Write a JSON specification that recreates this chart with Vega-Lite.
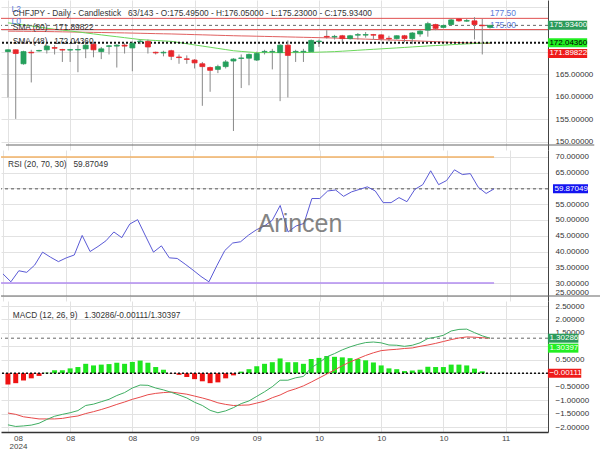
{
"$schema": "https://vega.github.io/schema/vega-lite/v6.json",
"padding": 0,
"autosize": {"type": "pad"},
"spacing": 0,
"bounds": "flush",
"background": "white",
"config": {"view": {"stroke": null}, "font": "Liberation Sans", "text": {"font": "Liberation Sans"}, "axis": {"labelOverlap": false, "gridColor": "#e2e2e2"}},
"datasets": {
"candles": [
{"i":0,"o":170.07,"h":170.55,"l":159.86,"c":170.48,"sma48":176.50,"sma80":174.65,"rsi":32.9,"hist":-0.42,"macd":-1.92,"signal":-1.48},
{"i":1,"o":170.48,"h":170.55,"l":155.06,"c":169.65,"sma48":176.27,"sma80":174.63,"rsi":30.4,"hist":-0.37,"macd":-1.98,"signal":-1.53},
{"i":2,"o":167.36,"h":170.27,"l":167.15,"c":170.07,"sma48":176.03,"sma80":174.61,"rsi":33.9,"hist":-0.27,"macd":-1.96,"signal":-1.62},
{"i":3,"o":169.93,"h":170.48,"l":163.19,"c":169.80,"sma48":175.80,"sma80":174.59,"rsi":33.4,"hist":-0.19,"macd":-1.93,"signal":-1.66},
{"i":4,"o":170.22,"h":170.48,"l":170.07,"c":170.33,"sma48":175.55,"sma80":174.57,"rsi":35.7,"hist":-0.10,"macd":-1.86,"signal":-1.70},
{"i":5,"o":170.48,"h":171.52,"l":169.65,"c":171.31,"sma48":175.30,"sma80":174.55,"rsi":39.8,"hist":0.02,"macd":-1.72,"signal":-1.70},
{"i":6,"o":170.97,"h":171.52,"l":169.44,"c":170.83,"sma48":175.06,"sma80":174.52,"rsi":38.2,"hist":0.11,"macd":-1.60,"signal":-1.70},
{"i":7,"o":170.55,"h":170.69,"l":167.77,"c":170.42,"sma48":174.88,"sma80":174.49,"rsi":36.8,"hist":0.11,"macd":-1.53,"signal":-1.68},
{"i":8,"o":170.42,"h":170.69,"l":167.77,"c":170.52,"sma48":174.68,"sma80":174.46,"rsi":38.0,"hist":0.18,"macd":-1.47,"signal":-1.63},
{"i":9,"o":170.45,"h":171.52,"l":165.48,"c":170.55,"sma48":174.47,"sma80":174.43,"rsi":38.9,"hist":0.23,"macd":-1.39,"signal":-1.59},
{"i":10,"o":170.69,"h":172.15,"l":168.61,"c":171.52,"sma48":174.25,"sma80":174.40,"rsi":45.1,"hist":0.35,"macd":-1.20,"signal":-1.50},
{"i":11,"o":171.73,"h":172.15,"l":168.81,"c":170.48,"sma48":174.03,"sma80":174.37,"rsi":40.0,"hist":0.29,"macd":-1.15,"signal":-1.43},
{"i":12,"o":170.07,"h":171.11,"l":168.40,"c":170.69,"sma48":173.81,"sma80":174.34,"rsi":41.6,"hist":0.32,"macd":-1.06,"signal":-1.35},
{"i":13,"o":171.25,"h":171.52,"l":169.44,"c":171.37,"sma48":173.60,"sma80":174.31,"rsi":43.4,"hist":0.34,"macd":-0.97,"signal":-1.26},
{"i":14,"o":171.31,"h":171.73,"l":166.52,"c":171.52,"sma48":173.40,"sma80":174.28,"rsi":46.2,"hist":0.39,"macd":-0.83,"signal":-1.16},
{"i":15,"o":171.52,"h":171.94,"l":169.65,"c":171.31,"sma48":173.19,"sma80":174.25,"rsi":44.4,"hist":0.35,"macd":-0.72,"signal":-1.07},
{"i":16,"o":170.90,"h":172.36,"l":165.69,"c":171.94,"sma48":172.98,"sma80":174.21,"rsi":48.7,"hist":0.42,"macd":-0.55,"signal":-0.97},
{"i":17,"o":172.30,"h":172.77,"l":171.73,"c":172.42,"sma48":172.77,"sma80":174.17,"rsi":50.1,"hist":0.47,"macd":-0.44,"signal":-0.89},
{"i":18,"o":172.36,"h":172.77,"l":169.65,"c":171.11,"sma48":172.66,"sma80":174.13,"rsi":44.9,"hist":0.39,"macd":-0.45,"signal":-0.80},
{"i":19,"o":169.92,"h":170.07,"l":169.44,"c":169.79,"sma48":172.56,"sma80":174.09,"rsi":39.8,"hist":0.23,"macd":-0.55,"signal":-0.75},
{"i":20,"o":169.79,"h":170.27,"l":169.02,"c":169.92,"sma48":172.46,"sma80":174.05,"rsi":41.8,"hist":0.13,"macd":-0.62,"signal":-0.72},
{"i":21,"o":170.27,"h":170.48,"l":168.19,"c":169.02,"sma48":172.36,"sma80":174.02,"rsi":38.0,"hist":-0.01,"macd":-0.71,"signal":-0.70},
{"i":22,"o":168.87,"h":169.44,"l":167.36,"c":168.75,"sma48":172.10,"sma80":173.97,"rsi":37.8,"hist":-0.06,"macd":-0.81,"signal":-0.74},
{"i":23,"o":168.46,"h":169.23,"l":167.36,"c":168.34,"sma48":171.84,"sma80":173.92,"rsi":36.0,"hist":-0.14,"macd":-0.92,"signal":-0.78},
{"i":24,"o":168.19,"h":168.40,"l":166.31,"c":167.56,"sma48":171.57,"sma80":173.87,"rsi":34.1,"hist":-0.22,"macd":-1.08,"signal":-0.85},
{"i":25,"o":167.36,"h":167.77,"l":157.98,"c":166.73,"sma48":171.31,"sma80":173.82,"rsi":32.1,"hist":-0.30,"macd":-1.20,"signal":-0.92},
{"i":26,"o":166.52,"h":166.73,"l":161.11,"c":165.90,"sma48":171.05,"sma80":173.77,"rsi":30.4,"hist":-0.37,"macd":-1.38,"signal":-1.00},
{"i":27,"o":166.11,"h":167.15,"l":165.27,"c":166.73,"sma48":170.79,"sma80":173.72,"rsi":35.5,"hist":-0.34,"macd":-1.47,"signal":-1.10},
{"i":28,"o":166.73,"h":168.19,"l":166.31,"c":167.77,"sma48":170.53,"sma80":173.67,"rsi":40.3,"hist":-0.19,"macd":-1.40,"signal":-1.16},
{"i":29,"o":167.98,"h":168.61,"l":152.36,"c":168.40,"sma48":170.27,"sma80":173.62,"rsi":42.7,"hist":-0.08,"macd":-1.28,"signal":-1.20},
{"i":30,"o":168.55,"h":169.44,"l":161.94,"c":168.66,"sma48":170.12,"sma80":173.58,"rsi":43.1,"hist":0.06,"macd":-1.13,"signal":-1.19},
{"i":31,"o":168.61,"h":169.65,"l":162.56,"c":169.44,"sma48":169.98,"sma80":173.55,"rsi":45.2,"hist":0.15,"macd":-1.03,"signal":-1.18},
{"i":32,"o":168.19,"h":170.07,"l":167.98,"c":169.65,"sma48":169.86,"sma80":173.51,"rsi":46.9,"hist":0.26,"macd":-0.86,"signal":-1.11},
{"i":33,"o":170.00,"h":170.48,"l":169.44,"c":170.12,"sma48":169.85,"sma80":173.47,"rsi":48.1,"hist":0.35,"macd":-0.69,"signal":-1.04},
{"i":34,"o":170.00,"h":170.69,"l":166.11,"c":170.12,"sma48":169.85,"sma80":173.43,"rsi":49.9,"hist":0.41,"macd":-0.50,"signal":-0.91},
{"i":35,"o":169.86,"h":171.73,"l":159.02,"c":171.52,"sma48":169.85,"sma80":173.39,"rsi":54.6,"hist":0.55,"macd":-0.26,"signal":-0.81},
{"i":36,"o":171.52,"h":172.57,"l":159.86,"c":169.23,"sma48":169.85,"sma80":173.35,"rsi":46.2,"hist":0.41,"macd":-0.26,"signal":-0.67},
{"i":37,"o":170.00,"h":170.48,"l":167.77,"c":170.12,"sma48":169.85,"sma80":173.31,"rsi":48.1,"hist":0.41,"macd":-0.17,"signal":-0.58},
{"i":38,"o":170.00,"h":170.69,"l":167.77,"c":170.14,"sma48":169.86,"sma80":173.27,"rsi":48.9,"hist":0.35,"macd":-0.12,"signal":-0.47},
{"i":39,"o":170.07,"h":172.77,"l":170.00,"c":172.57,"sma48":169.91,"sma80":173.23,"rsi":56.8,"hist":0.53,"macd":0.20,"signal":-0.33},
{"i":40,"o":172.30,"h":172.77,"l":171.11,"c":172.42,"sma48":169.96,"sma80":173.19,"rsi":56.8,"hist":0.57,"macd":0.39,"signal":-0.18},
{"i":41,"o":173.47,"h":174.86,"l":172.98,"c":173.33,"sma48":170.01,"sma80":173.15,"rsi":59.2,"hist":0.64,"macd":0.61,"signal":-0.03},
{"i":42,"o":173.33,"h":173.81,"l":172.77,"c":173.47,"sma48":170.07,"sma80":173.10,"rsi":59.5,"hist":0.61,"macd":0.73,"signal":0.12},
{"i":43,"o":173.61,"h":173.81,"l":172.15,"c":172.98,"sma48":170.17,"sma80":173.04,"rsi":57.5,"hist":0.59,"macd":0.87,"signal":0.28},
{"i":44,"o":172.98,"h":173.81,"l":172.77,"c":173.61,"sma48":170.27,"sma80":172.98,"rsi":58.9,"hist":0.56,"macd":0.98,"signal":0.42},
{"i":45,"o":173.75,"h":174.23,"l":172.77,"c":173.87,"sma48":170.38,"sma80":172.92,"rsi":59.7,"hist":0.53,"macd":1.07,"signal":0.54},
{"i":46,"o":173.76,"h":174.44,"l":173.19,"c":173.88,"sma48":170.49,"sma80":172.86,"rsi":60.5,"hist":0.48,"macd":1.14,"signal":0.66},
{"i":47,"o":173.87,"h":174.02,"l":172.77,"c":173.75,"sma48":170.59,"sma80":172.80,"rsi":59.2,"hist":0.40,"macd":1.16,"signal":0.76},
{"i":48,"o":173.81,"h":173.95,"l":172.57,"c":172.98,"sma48":170.69,"sma80":172.74,"rsi":55.5,"hist":0.29,"macd":1.13,"signal":0.84},
{"i":49,"o":173.05,"h":173.61,"l":172.36,"c":172.92,"sma48":170.80,"sma80":172.68,"rsi":55.5,"hist":0.18,"macd":1.05,"signal":0.87},
{"i":50,"o":172.98,"h":173.70,"l":172.77,"c":173.61,"sma48":170.90,"sma80":172.62,"rsi":57.1,"hist":0.15,"macd":1.04,"signal":0.89},
{"i":51,"o":173.61,"h":173.81,"l":172.15,"c":172.98,"sma48":171.01,"sma80":172.56,"rsi":55.8,"hist":0.08,"macd":1.00,"signal":0.92},
{"i":52,"o":172.98,"h":174.44,"l":171.73,"c":174.23,"sma48":171.12,"sma80":172.50,"rsi":59.7,"hist":0.10,"macd":1.04,"signal":0.94},
{"i":53,"o":174.02,"h":174.86,"l":173.40,"c":174.65,"sma48":171.23,"sma80":172.44,"rsi":61.2,"hist":0.13,"macd":1.13,"signal":1.00},
{"i":54,"o":174.86,"h":176.73,"l":173.40,"c":176.31,"sma48":171.34,"sma80":172.37,"rsi":65.6,"hist":0.24,"macd":1.29,"signal":1.05},
{"i":55,"o":176.11,"h":176.31,"l":174.86,"c":175.27,"sma48":171.43,"sma80":172.30,"rsi":61.2,"hist":0.23,"macd":1.34,"signal":1.11},
{"i":56,"o":175.48,"h":176.11,"l":175.27,"c":175.90,"sma48":171.52,"sma80":172.23,"rsi":62.5,"hist":0.23,"macd":1.41,"signal":1.18},
{"i":57,"o":176.11,"h":177.36,"l":175.90,"c":177.15,"sma48":171.62,"sma80":172.16,"rsi":65.9,"hist":0.32,"macd":1.57,"signal":1.25},
{"i":58,"o":177.36,"h":177.56,"l":176.73,"c":176.94,"sma48":171.71,"sma80":172.09,"rsi":64.4,"hist":0.32,"macd":1.63,"signal":1.31},
{"i":59,"o":176.88,"h":177.36,"l":176.73,"c":177.00,"sma48":171.80,"sma80":172.03,"rsi":64.7,"hist":0.29,"macd":1.64,"signal":1.35},
{"i":60,"o":176.94,"h":177.77,"l":172.77,"c":176.11,"sma48":171.88,"sma80":171.98,"rsi":60.4,"hist":0.17,"macd":1.51,"signal":1.34},
{"i":61,"o":175.97,"h":177.36,"l":169.44,"c":175.85,"sma48":171.96,"sma80":171.94,"rsi":58.4,"hist":0.07,"macd":1.39,"signal":1.32},
{"i":62,"o":175.495,"h":176.05,"l":175.23,"c":175.934,"sma48":172.0436,"sma80":171.89822,"rsi":59.87049,"hist":-0.00111,"macd":1.30286,"signal":1.30397}
],
"levels": [{"level":"L2","price":177.5},{"level":"L0","price":175.0}],
"lastMain": [{"kind":"Close","value":175.934},{"kind":"SMA 48","value":172.0436},{"kind":"SMA 80","value":171.89822}],
"lastRsi": [{"kind":"RSI","value":59.87049}],
"rsiLevels": [{"level":70},{"level":30}],
"lastMacd": [{"kind":"MACD","value":1.30286},{"kind":"Signal","value":1.30397},{"kind":"Histogram","value":-0.00111}]
},
"vconcat": [
{
"width": 547, "height": 150,
"layer": [
{"data":{"name":"candles"},"mark":{"type":"line","color":"#e06060","strokeWidth":1},
 "encoding":{
  "x":{"field":"i","type":"quantitative","scale":{"domain":[-0.25,68.81],"nice":false,"zero":false},"axis":{"values":[0,8,16,24,32,40,48,56,64],"tickCount":30,"labels":false,"ticks":false,"domain":false,"grid":true,"title":null}},
  "y":{"field":"sma80","type":"quantitative","scale":{"domain":[149.23,180.48],"nice":false,"zero":false},"axis":{"orient":"right","values":[150,155,160,165,170,175,180],"tickCount":30,"format":".5f","labelExpr":"datum.value >= 170 ? '' : datum.label","labelOverlap":false,"grid":true,"title":null,"labelPadding":7,"labelFlush":false,"domain":true,"domainColor":"#444","ticks":false,"labelFontSize":8,"labelColor":"#333","labelFont":"Liberation Sans"}}}},
{"data":{"name":"candles"},"mark":{"type":"line","color":"#6ad85a","strokeWidth":1},
 "encoding":{"x":{"field":"i","type":"quantitative","scale":{"domain":[-0.25,68.81],"nice":false,"zero":false}},
  "y":{"field":"sma48","type":"quantitative","scale":{"domain":[149.23,180.48],"nice":false,"zero":false}}}},
{"data":{"name":"levels"},"mark":{"type":"rule","color":"#e05050","strokeWidth":1},
 "encoding":{"y":{"field":"price","type":"quantitative","scale":{"domain":[149.23,180.48],"nice":false,"zero":false}}}},
{"data":{"name":"levels"},"mark":{"type":"text","align":"left","baseline":"middle","dy":-9,"fontSize":8.5,"color":"#5b7bd9"},
 "encoding":{"x":{"datum":0.45,"type":"quantitative","scale":{"domain":[-0.25,68.81],"nice":false,"zero":false}},
  "y":{"field":"price","type":"quantitative","scale":{"domain":[149.23,180.48],"nice":false,"zero":false}},
  "text":{"field":"level"}}},
{"data":{"name":"levels"},"mark":{"type":"text","align":"left","baseline":"middle","dy":-5,"fontSize":8.5,"color":"#5b7bd9"},
 "encoding":{"x":{"datum":62,"type":"quantitative","scale":{"domain":[-0.25,68.81],"nice":false,"zero":false}},
  "y":{"field":"price","type":"quantitative","scale":{"domain":[149.23,180.48],"nice":false,"zero":false}},
  "text":{"field":"price","format":".2f"}}},
{"data":{"name":"lastMain"},"transform":[{"filter":"datum.kind == 'Close'"}],"mark":{"type":"rule","color":"#666","strokeDash":[3,3],"strokeWidth":1},
 "encoding":{"y":{"field":"value","type":"quantitative","scale":{"domain":[149.23,180.48],"nice":false,"zero":false}}}},
{"data":{"name":"lastMain"},"transform":[{"filter":"datum.kind == 'SMA 48'"}],"mark":{"type":"rule","color":"#111","strokeDash":[2,2],"strokeWidth":2},
 "encoding":{"y":{"field":"value","type":"quantitative","scale":{"domain":[149.23,180.48],"nice":false,"zero":false}}}},
{"data":{"values":[{}]},"mark":{"type":"rule","color":"#666","strokeWidth":1.2},
 "encoding":{"x":{"datum":-0.25,"type":"quantitative","scale":{"domain":[-0.25,68.81],"nice":false,"zero":false}},"x2":{"datum":75.4},
  "y":{"datum":149.23,"type":"quantitative","scale":{"domain":[149.23,180.48],"nice":false,"zero":false}}}},
{"data":{"name":"candles"},"mark":{"type":"rule","color":"#888","strokeWidth":1},
 "encoding":{"x":{"field":"i","type":"quantitative","scale":{"domain":[-0.25,68.81],"nice":false,"zero":false}},
  "y":{"field":"l","type":"quantitative","scale":{"domain":[149.23,180.48],"nice":false,"zero":false}},"y2":{"field":"h"}}},
{"data":{"name":"candles"},"mark":{"type":"bar","width":5,"strokeWidth":0.8},
 "encoding":{"x":{"field":"i","type":"quantitative","scale":{"domain":[-0.25,68.81],"nice":false,"zero":false}},
  "y":{"field":"o","type":"quantitative","scale":{"domain":[149.23,180.48],"nice":false,"zero":false}},"y2":{"field":"c"},
  "color":{"condition":{"test":"datum.c >= datum.o","value":"#25a05c"},"value":"#e8262b"},
  "stroke":{"condition":{"test":"datum.c >= datum.o","value":"#25a05c"},"value":"#e8262b"}}},
{"data":{"name":"lastMain"},"transform":[{"filter":"datum.kind != 'SMA 80'"}],"mark":{"type":"bar","height":9},
 "encoding":{"x":{"datum":69.44,"type":"quantitative","scale":{"domain":[-0.25,68.81],"nice":false,"zero":false}},"x2":{"datum":74.49},
  "y":{"field":"value","type":"quantitative","scale":{"domain":[149.23,180.48],"nice":false,"zero":false}},
  "color":{"field":"kind","type":"nominal","scale":{"domain":["Close","SMA 48","SMA 80"],"range":["#2b9a5a","#22ee22","#ee1a1a"]},"legend":null}}},
{"data":{"name":"lastMain"},"transform":[{"filter":"datum.kind == 'SMA 80'"}],"mark":{"type":"bar","height":9,"yOffset":10},
 "encoding":{"x":{"datum":69.44,"type":"quantitative","scale":{"domain":[-0.25,68.81],"nice":false,"zero":false}},"x2":{"datum":74.49},
  "y":{"field":"value","type":"quantitative","scale":{"domain":[149.23,180.48],"nice":false,"zero":false}},
  "color":{"field":"kind","type":"nominal","scale":{"domain":["Close","SMA 48","SMA 80"],"range":["#2b9a5a","#22ee22","#ee1a1a"]},"legend":null}}},
{"data":{"name":"lastMain"},"transform":[{"filter":"datum.kind != 'SMA 80'"}],"mark":{"type":"text","align":"left","baseline":"middle","fontSize":8},
 "encoding":{"x":{"datum":69.63,"type":"quantitative","scale":{"domain":[-0.25,68.81],"nice":false,"zero":false}},
  "y":{"field":"value","type":"quantitative","scale":{"domain":[149.23,180.48],"nice":false,"zero":false}},
  "text":{"field":"value","format":".5f"},
  "color":{"condition":{"test":"datum.kind == 'SMA 48'","value":"#000"},"value":"#fff"}}},
{"data":{"name":"lastMain"},"transform":[{"filter":"datum.kind == 'SMA 80'"}],"mark":{"type":"text","align":"left","baseline":"middle","fontSize":8,"dy":10,"color":"#fff"},
 "encoding":{"x":{"datum":69.63,"type":"quantitative","scale":{"domain":[-0.25,68.81],"nice":false,"zero":false}},
  "y":{"field":"value","type":"quantitative","scale":{"domain":[149.23,180.48],"nice":false,"zero":false}},
  "text":{"field":"value","format":".5f"}}},
{"data":{"values":[{"t":"CHFJPY - Daily - Candlestick\u00a0\u00a0\u00a063/143 - O:175.49500 - H:176.05000 - L:175.23000 - C:175.93400"}]},"mark":{"type":"text","align":"left","baseline":"middle","fontSize":8.3,"color":"#333"},
 "encoding":{"x":{"datum":0.63,"type":"quantitative","scale":{"domain":[-0.25,68.81],"nice":false,"zero":false}},
  "y":{"datum":178.4,"type":"quantitative","scale":{"domain":[149.23,180.48],"nice":false,"zero":false}},"text":{"field":"t"}}},
{"data":{"values":[{"t":"SMA (80)\u00a0\u00a0\u00a0171.89822"}]},"mark":{"type":"text","align":"left","baseline":"middle","fontSize":8.3,"color":"#333"},
 "encoding":{"x":{"datum":0.63,"type":"quantitative","scale":{"domain":[-0.25,68.81],"nice":false,"zero":false}},
  "y":{"datum":175.27,"type":"quantitative","scale":{"domain":[149.23,180.48],"nice":false,"zero":false}},"text":{"field":"t"}}},
{"data":{"values":[{"t":"SMA (48)\u00a0\u00a0\u00a0172.04360"}]},"mark":{"type":"text","align":"left","baseline":"middle","fontSize":8.3,"color":"#333"},
 "encoding":{"x":{"datum":0.63,"type":"quantitative","scale":{"domain":[-0.25,68.81],"nice":false,"zero":false}},
  "y":{"datum":172.15,"type":"quantitative","scale":{"domain":[149.23,180.48],"nice":false,"zero":false}},"text":{"field":"t"}}}
]
},
{
"width": 547, "height": 151,
"layer": [
{"data":{"name":"rsiLevels"},"mark":{"type":"rule","strokeWidth":1.5},
 "encoding":{"x":{"datum":-0.25,"type":"quantitative","scale":{"domain":[-0.25,68.81],"nice":false,"zero":false},"axis":{"values":[0,8,16,24,32,40,48,56,64],"tickCount":30,"labels":false,"ticks":false,"domain":false,"grid":true,"title":null}},"x2":{"datum":62},
  "y":{"field":"level","type":"quantitative","scale":{"domain":[25.9,70.6],"nice":false,"zero":false},"axis":{"orient":"right","values":[25.9,30,35,40,45,50,55,60,65,70],"tickCount":30,"labelExpr":"datum.value < 26 ? '25.00000' : (datum.value == 60 ? '' : format(datum.value, '.5f'))","labelOverlap":false,"labelBaseline":{"condition":{"test":"datum.value < 26","value":"bottom"},"value":"middle"},"grid":true,"title":null,"labelPadding":7,"labelFlush":false,"domain":true,"domainColor":"#444","ticks":false,"labelFontSize":8,"labelColor":"#333","labelFont":"Liberation Sans"}},
  "color":{"condition":{"test":"datum.level == 70","value":"#f2b266"},"value":"#b28cf0"}}},
{"data":{"name":"lastRsi"},"mark":{"type":"rule","color":"#555","strokeDash":[3,3],"strokeWidth":1},
 "encoding":{"y":{"field":"value","type":"quantitative","scale":{"domain":[25.9,70.6],"nice":false,"zero":false}}}},
{"data":{"name":"candles"},"mark":{"type":"line","color":"#5a5ad6","strokeWidth":1},
 "encoding":{"x":{"field":"i","type":"quantitative","scale":{"domain":[-0.25,68.81],"nice":false,"zero":false}},
  "y":{"field":"rsi","type":"quantitative","scale":{"domain":[25.9,70.6],"nice":false,"zero":false}}}},
{"data":{"values":[{}]},"mark":{"type":"rule","color":"#666","strokeWidth":1.2},
 "encoding":{"x":{"datum":-0.25,"type":"quantitative","scale":{"domain":[-0.25,68.81],"nice":false,"zero":false}},"x2":{"datum":75.4},
  "y":{"datum":25.9,"type":"quantitative","scale":{"domain":[25.9,70.6],"nice":false,"zero":false}}}},
{"data":{"name":"lastRsi"},"mark":{"type":"bar","height":9,"color":"#1414f0"},
 "encoding":{"x":{"datum":69.44,"type":"quantitative","scale":{"domain":[-0.25,68.81],"nice":false,"zero":false}},"x2":{"datum":73.86},
  "y":{"field":"value","type":"quantitative","scale":{"domain":[25.9,70.6],"nice":false,"zero":false}}}},
{"data":{"name":"lastRsi"},"mark":{"type":"text","align":"left","baseline":"middle","fontSize":8,"color":"#fff"},
 "encoding":{"x":{"datum":69.63,"type":"quantitative","scale":{"domain":[-0.25,68.81],"nice":false,"zero":false}},
  "y":{"field":"value","type":"quantitative","scale":{"domain":[25.9,70.6],"nice":false,"zero":false}},
  "text":{"field":"value","format":".5f"}}},
{"data":{"values":[{"t":"RSI (20, 70, 30)\u00a0\u00a0\u00a059.87049"}]},"mark":{"type":"text","align":"left","baseline":"middle","fontSize":8.3,"color":"#333"},
 "encoding":{"x":{"datum":0.63,"type":"quantitative","scale":{"domain":[-0.25,68.81],"nice":false,"zero":false}},
  "y":{"datum":67.43,"type":"quantitative","scale":{"domain":[25.9,70.6],"nice":false,"zero":false}},"text":{"field":"t"}}},
{"data":{"values":[{"t":"Arincen"}]},"mark":{"type":"text","align":"center","baseline":"middle","fontSize":25,"color":"#666","opacity":0.8},
 "encoding":{"x":{"datum":37.5,"type":"quantitative","scale":{"domain":[-0.25,68.81],"nice":false,"zero":false}},
  "y":{"datum":48.7,"type":"quantitative","scale":{"domain":[25.9,70.6],"nice":false,"zero":false}},"text":{"field":"t"}}}
]
},
{
"width": 547, "height": 131,
"layer": [
{"data":{"name":"candles"},"mark":{"type":"bar","width":5},
 "encoding":{
  "x":{"field":"i","type":"quantitative","scale":{"domain":[-0.25,68.81],"nice":false,"zero":false},"axis":{"orient":"bottom","values":[0,8,16,24,32,40,48,56,64],"tickCount":30,"labelExpr":"datum.value == 0 ? ['08','2024'] : (datum.value < 24 ? '08' : (datum.value < 40 ? '09' : (datum.value < 64 ? '10' : '11')))","labelOverlap":false,"labelOffset":{"condition":{"test":"datum.value == 0","value":10},"value":0},"grid":true,"ticks":false,"domain":true,"domainColor":"#333","domainWidth":1.5,"labelPadding":2,"labelFontSize":8,"labelColor":"#444","labelLineHeight":8,"labelFlush":false,"labelFont":"Liberation Sans","title":null}},
  "y":{"field":"hist","type":"quantitative","scale":{"domain":[-2,2.5],"nice":false,"zero":false},"axis":{"orient":"right","values":[-2,-1.5,-1,-0.5,0,0.5,1,1.5,2,2.5],"tickCount":30,"format":".5f","labelExpr":"datum.value == 0 || datum.value == 1 ? '' : datum.label","labelOverlap":false,"grid":true,"title":null,"labelPadding":7,"labelFlush":true,"domain":true,"domainColor":"#444","ticks":false,"labelFontSize":8,"labelColor":"#333","labelFont":"Liberation Sans"}},
  "y2":{"datum":0},
  "color":{"condition":{"test":"datum.hist >= 0","value":"#1ee61e"},"value":"#ee1111"}}},
{"data":{"name":"lastMacd"},"transform":[{"filter":"datum.kind == 'Histogram'"}],"mark":{"type":"rule","color":"#111","strokeDash":[2,2],"strokeWidth":1.5},
 "encoding":{"y":{"field":"value","type":"quantitative","scale":{"domain":[-2,2.5],"nice":false,"zero":false}}}},
{"data":{"name":"lastMacd"},"transform":[{"filter":"datum.kind == 'MACD'"}],"mark":{"type":"rule","color":"#666","strokeDash":[3,3],"strokeWidth":1},
 "encoding":{"y":{"field":"value","type":"quantitative","scale":{"domain":[-2,2.5],"nice":false,"zero":false}}}},
{"data":{"name":"candles"},"mark":{"type":"line","color":"#e84a4a","strokeWidth":1},
 "encoding":{"x":{"field":"i","type":"quantitative","scale":{"domain":[-0.25,68.81],"nice":false,"zero":false}},
  "y":{"field":"signal","type":"quantitative","scale":{"domain":[-2,2.5],"nice":false,"zero":false}}}},
{"data":{"name":"candles"},"mark":{"type":"line","color":"#3fae62","strokeWidth":1},
 "encoding":{"x":{"field":"i","type":"quantitative","scale":{"domain":[-0.25,68.81],"nice":false,"zero":false}},
  "y":{"field":"macd","type":"quantitative","scale":{"domain":[-2,2.5],"nice":false,"zero":false}}}},
{"data":{"name":"lastMacd"},"transform":[{"filter":"datum.kind == 'MACD'"}],"mark":{"type":"bar","height":9},
 "encoding":{"x":{"datum":69.44,"type":"quantitative","scale":{"domain":[-0.25,68.81],"nice":false,"zero":false}},"x2":{"datum":73.36},
  "y":{"field":"value","type":"quantitative","scale":{"domain":[-2,2.5],"nice":false,"zero":false}},
  "color":{"field":"kind","type":"nominal","scale":{"domain":["MACD","Signal","Histogram"],"range":["#2b9a5a","#ee1a1a","#ee1a1a"]},"legend":null}}},
{"data":{"name":"lastMacd"},"transform":[{"filter":"datum.kind == 'Histogram'"}],"mark":{"type":"bar","height":9},
 "encoding":{"x":{"datum":69.44,"type":"quantitative","scale":{"domain":[-0.25,68.81],"nice":false,"zero":false}},"x2":{"datum":73.73},
  "y":{"field":"value","type":"quantitative","scale":{"domain":[-2,2.5],"nice":false,"zero":false}},
  "color":{"field":"kind","type":"nominal","scale":{"domain":["MACD","Signal","Histogram"],"range":["#2b9a5a","#ee1a1a","#ee1a1a"]},"legend":null}}},
{"data":{"name":"lastMacd"},"transform":[{"filter":"datum.kind == 'Signal'"}],"mark":{"type":"bar","height":9,"yOffset":10},
 "encoding":{"x":{"datum":69.44,"type":"quantitative","scale":{"domain":[-0.25,68.81],"nice":false,"zero":false}},"x2":{"datum":73.36},
  "y":{"field":"value","type":"quantitative","scale":{"domain":[-2,2.5],"nice":false,"zero":false}},
  "color":{"field":"kind","type":"nominal","scale":{"domain":["MACD","Signal","Histogram"],"range":["#2b9a5a","#ee1a1a","#ee1a1a"]},"legend":null}}},
{"data":{"name":"lastMacd"},"transform":[{"filter":"datum.kind != 'Signal'"}],"mark":{"type":"text","align":"left","baseline":"middle","fontSize":8,"color":"#fff"},
 "encoding":{"x":{"datum":69.63,"type":"quantitative","scale":{"domain":[-0.25,68.81],"nice":false,"zero":false}},
  "y":{"field":"value","type":"quantitative","scale":{"domain":[-2,2.5],"nice":false,"zero":false}},
  "text":{"field":"value","format":".5f"}}},
{"data":{"name":"lastMacd"},"transform":[{"filter":"datum.kind == 'Signal'"}],"mark":{"type":"text","align":"left","baseline":"middle","fontSize":8,"color":"#fff","dy":10},
 "encoding":{"x":{"datum":69.63,"type":"quantitative","scale":{"domain":[-0.25,68.81],"nice":false,"zero":false}},
  "y":{"field":"value","type":"quantitative","scale":{"domain":[-2,2.5],"nice":false,"zero":false}},
  "text":{"field":"value","format":".5f"}}},
{"data":{"values":[{"t":"MACD (12, 26, 9)\u00a0\u00a0\u00a01.30286/-0.00111/1.30397"}]},"mark":{"type":"text","align":"left","baseline":"middle","fontSize":8.3,"color":"#333"},
 "encoding":{"x":{"datum":0.63,"type":"quantitative","scale":{"domain":[-0.25,68.81],"nice":false,"zero":false}},
  "y":{"datum":2.13,"type":"quantitative","scale":{"domain":[-2,2.5],"nice":false,"zero":false}},"text":{"field":"t"}}}
]
}
]
}
